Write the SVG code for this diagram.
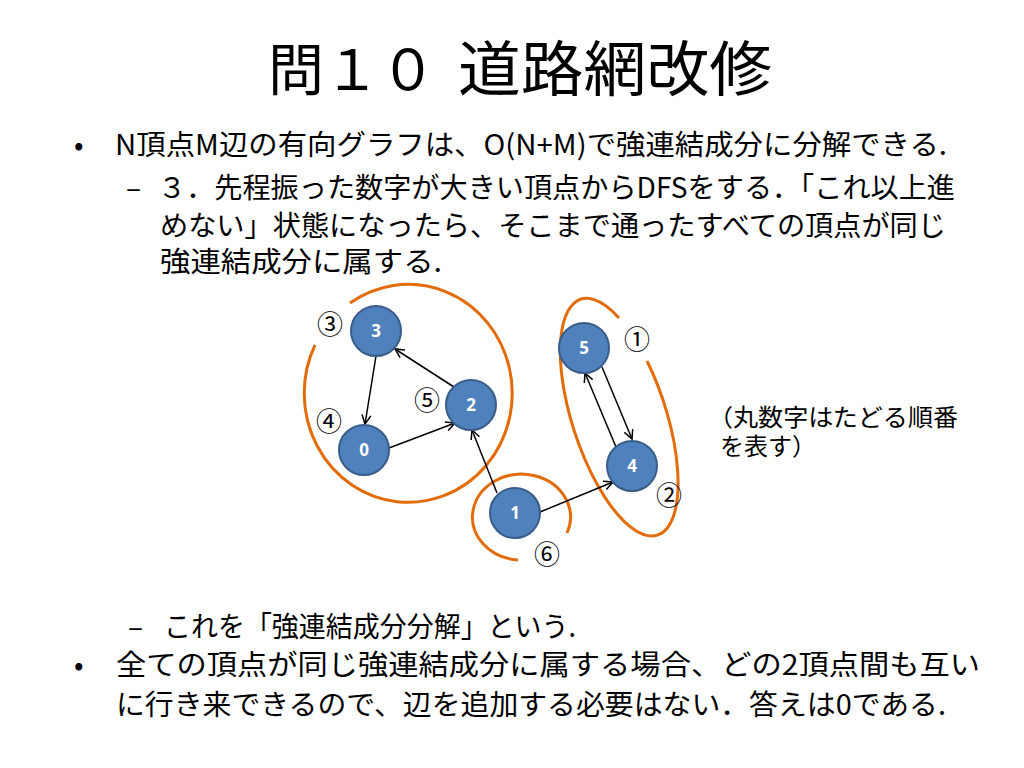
<svg xmlns="http://www.w3.org/2000/svg" width="1024" height="768" viewBox="0 0 1024 768">
<style>
.t{font-family:"Noto Sans CJK JP","Liberation Sans",sans-serif;fill:#000;}
.title{font-size:56px;}
.title2{font-size:60px;}
.body{font-size:28px;}
.note{font-size:24px;}
.cn{font-size:26px;text-anchor:middle;}
.node circle{fill:#4F81BD;stroke:#385D8A;stroke-width:2;}
.node text{font-family:"Open Sans","Liberation Sans",sans-serif;font-weight:bold;font-size:17px;fill:#fff;text-anchor:middle;}
.edge{stroke:#000;stroke-width:1.5;fill:none;marker-end:url(#arr);}
.scc{stroke:#E36C0A;stroke-width:3;fill:none;}
</style>
<defs>
<marker id="arr" markerUnits="userSpaceOnUse" markerWidth="12" markerHeight="12" viewBox="0 0 12 12" refX="10" refY="6" orient="auto">
<path d="M1,1.5 L10,6 L1,10.5" stroke="#000" stroke-width="1.5" fill="none"/>
</marker>
</defs>
<rect width="1024" height="768" fill="#fff"/>
<g id="title">
<text class="t title" x="268" y="90">問１０</text>
<text class="t title2" x="458" y="91" textLength="314" lengthAdjust="spacingAndGlyphs">道路網改修</text>
</g>
<g id="bullets">
<text class="t body" x="74" y="155">•</text>
<text class="t body" x="115" y="155" textLength="832" lengthAdjust="spacingAndGlyphs">N頂点M辺の有向グラフは、O(N+M)で強連結成分に分解できる.</text>
<text class="t body" x="126" y="198">–</text>
<text class="t body"><tspan x="158" y="198" textLength="797" lengthAdjust="spacingAndGlyphs">３．先程振った数字が大きい頂点からDFSをする．「これ以上進</tspan><tspan x="160" y="236" textLength="786" lengthAdjust="spacingAndGlyphs">めない」状態になったら、そこまで通ったすべての頂点が同じ</tspan><tspan x="160" y="272" textLength="282" lengthAdjust="spacingAndGlyphs">強連結成分に属する.</tspan></text>
<text class="t body" x="128" y="637">–</text>
<text class="t body" x="164" y="637" textLength="412" lengthAdjust="spacingAndGlyphs">これを「強連結成分分解」という.</text>
<text class="t body" x="74" y="675">•</text>
<text class="t body"><tspan x="116" y="675" textLength="864" lengthAdjust="spacingAndGlyphs">全ての頂点が同じ強連結成分に属する場合、どの2頂点間も互い</tspan><tspan x="116" y="715" textLength="830" lengthAdjust="spacingAndGlyphs">に行き来できるので、辺を追加する必要はない．答えは0である.</tspan></text>
</g>
<g id="note">
<text class="t note"><tspan x="708" y="426" textLength="250" lengthAdjust="spacingAndGlyphs">（丸数字はたどる順番</tspan><tspan x="720" y="455">を表す）</tspan></text>
</g>
<g id="groups">
<path class="scc" d="M350,303 A104,109 0 1 1 315,345"/>
<path class="scc" d="M647,361 A47,124 -18 1 1 619,318"/>
<path class="scc" d="M567,533 A49,43 0 1 0 518,560"/>
</g>
<g id="connectors">
<line class="edge" x1="376" y1="356" x2="365" y2="424"/>
<line class="edge" x1="454" y1="387" x2="395" y2="349"/>
<line class="edge" x1="389" y1="448" x2="455" y2="423"/>
<line class="edge" x1="497" y1="493" x2="472" y2="430"/>
<line class="edge" x1="540" y1="512" x2="613" y2="482"/>
<line class="edge" x1="602" y1="367" x2="632" y2="439"/>
<line class="edge" x1="616" y1="447" x2="585" y2="373"/>
</g>
<g id="node0" class="node"><circle cx="364" cy="450" r="25"/><text x="364" y="456">0</text></g>
<g id="node1" class="node"><circle cx="515" cy="513" r="25"/><text x="515" y="519">1</text></g>
<g id="node2" class="node"><circle cx="471" cy="405" r="25"/><text x="471" y="411">2</text></g>
<g id="node3" class="node"><circle cx="376" cy="331" r="25"/><text x="376" y="337">3</text></g>
<g id="node4" class="node"><circle cx="632" cy="466" r="25"/><text x="632" y="472">4</text></g>
<g id="node5" class="node"><circle cx="584" cy="348" r="25"/><text x="584" y="354">5</text></g>
<g id="order">
<text class="t cn" x="330" y="334">③</text>
<text class="t cn" x="329" y="431">④</text>
<text class="t cn" x="427" y="410">⑤</text>
<text class="t cn" x="637" y="349">①</text>
<text class="t cn" x="669" y="505">②</text>
<text class="t cn" x="547" y="564">⑥</text>
</g>
</svg>
